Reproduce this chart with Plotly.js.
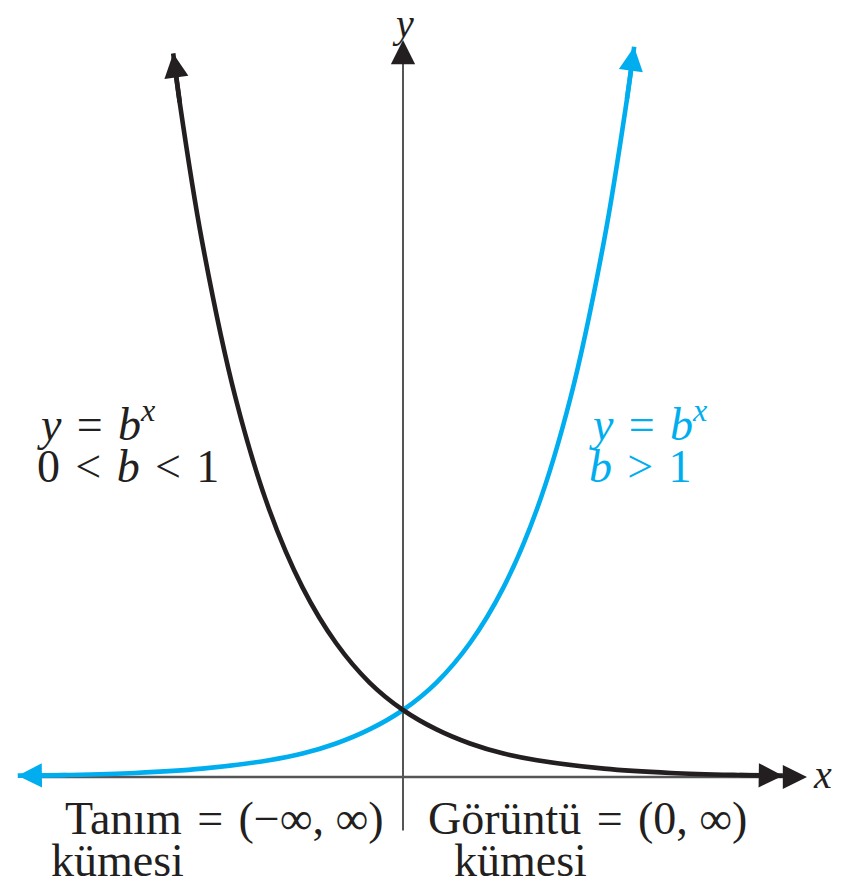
<!DOCTYPE html>
<html>
<head>
<meta charset="utf-8">
<script src="https://cdn.plot.ly/plotly-3.0.1.min.js"></script>
<style>html,body{margin:0;padding:0;background:#fff;}#chart{width:850px;height:887px;}</style>
</head>
<body>
<div id="chart"></div>
<script>
// Curve points (x, y)
const blueX = [-5.75, -5, -4, -3, -2, -1.5, -1, -0.5, 0, 0.5, 1, 1.5, 2, 2.5, 3, 3.34, 3.45];
const blueY = [0.02, 0.03, 0.06, 0.125, 0.25, 0.35, 0.5, 0.71, 1, 1.41, 2, 2.83, 4, 5.66, 8, 10.1, 10.9];
const blackX = [-3.43, -3.33, -3, -2.5, -2, -1.5, -1, -0.5, 0, 0.5, 1, 1.5, 2, 3, 4, 5, 5.67];
const blackY = [10.8, 10.05, 8, 5.66, 4, 2.83, 2, 1.41, 1, 0.71, 0.5, 0.35, 0.25, 0.125, 0.06, 0.03, 0.02];
// Axis extents
const xAxisX = [-5.5, 6.03];
const yAxisY = [-0.8, 11.0];

const blue = '#00AEEF';
const black = '#231F20';
const axisCol = '#555555';

const traces = [
  {x: blueX, y: blueY, mode: 'lines', line: {color: blue, width: 4.6, shape: 'spline'}, hoverinfo: 'skip'},
  {x: blackX, y: blackY, mode: 'lines', line: {color: black, width: 4.6, shape: 'spline'}, hoverinfo: 'skip'}
];

const W = 850, H = 887;
function px(x){ return x / W; }
function py(y){ return 1 - y / H; }
const serif = 'Liberation Serif, Times New Roman, serif';
function ann(text, x, y, color, xanchor, size, yanchor){
  return {text: text, xref: 'paper', yref: 'paper', x: px(x), y: py(y), xanchor: xanchor || 'left', yanchor: yanchor || 'middle',
    showarrow: false, borderpad: 0, font: {family: serif, size: size || 46, color: color}};
}
function arrow(x, y, ax, ay, color, width, size){
  return {x: x, y: y, ax: ax, ay: ay, xref: 'x', yref: 'y', axref: 'x', ayref: 'y', text: '',
    showarrow: true, arrowhead: 2, arrowsize: size, arrowwidth: width, arrowcolor: color, standoff: 0, startstandoff: 0};
}
function endArrow(xs, ys, atEnd, color){
  const n = xs.length;
  if (atEnd) return arrow(xs[n-1], ys[n-1], xs[n-2], ys[n-2], color, 4.6, 1.05);
  return arrow(xs[0], ys[0], xs[1], ys[1], color, 4.6, 1.05);
}

const sp = ' \u200A';
const annotations = [
  // axis arrowheads
  arrow(xAxisX[1], 0, xAxisX[1] - 0.3, 0, black, 2.2, 2.2),
  arrow(0, yAxisY[1], 0, yAxisY[1] - 0.3, black, 2.2, 2.2),
  // curve arrowheads
  endArrow(blueX, blueY, true, blue),
  endArrow(blueX, blueY, false, blue),
  endArrow(blackX, blackY, true, black),
  endArrow(blackX, blackY, false, black),
  // labels
  ann('<i>y</i>', 403, 0, black, 'center', 40, 'top'),
  ann('<i>x</i>', 812, 774, black, 'left', 40),
  ann('<i>y</i>' + sp + '=' + sp + '<i>b</i><sup><i>x</i></sup>', 36, 421, black),
  ann('0' + sp + '&lt;' + sp + '<i>b</i>' + sp + '&lt;' + sp + '1', 36, 466, black),
  ann('<i>y</i>' + sp + '=' + sp + '<i>b</i><sup><i>x</i></sup>', 588, 421, blue),
  ann('<i>b</i>' + sp + '&gt;' + sp + '1', 588, 466, blue),
  ann('Tanım' + sp + '=' + sp + '(−∞, ∞)', 64, 818, black),
  ann('kümesi', 50, 860, black),
  ann('Görüntü' + sp + '=' + sp + '(0, ∞)', 427, 818, black),
  ann('kümesi', 453, 860, black)
];

const shapes = [
  {type: 'line', xref: 'x', yref: 'y', x0: xAxisX[0], x1: xAxisX[1] - 0.1, y0: 0, y1: 0, line: {color: axisCol, width: 2.4}, layer: 'below'},
  {type: 'line', xref: 'x', yref: 'y', x0: 0, x1: 0, y0: yAxisY[0], y1: yAxisY[1] - 0.1, line: {color: axisCol, width: 2}, layer: 'below'}
];

const layout = {
  width: W, height: H,
  margin: {l: 0, r: 0, t: 0, b: 0},
  paper_bgcolor: '#ffffff', plot_bgcolor: '#ffffff',
  showlegend: false,
  xaxis: {range: [-403/67, 447/67], visible: false, fixedrange: true},
  yaxis: {range: [-110/67, 777/67], visible: false, fixedrange: true},
  shapes: shapes,
  annotations: annotations
};

Plotly.newPlot('chart', traces, layout, {displayModeBar: false, staticPlot: true});
</script>
</body>
</html>
